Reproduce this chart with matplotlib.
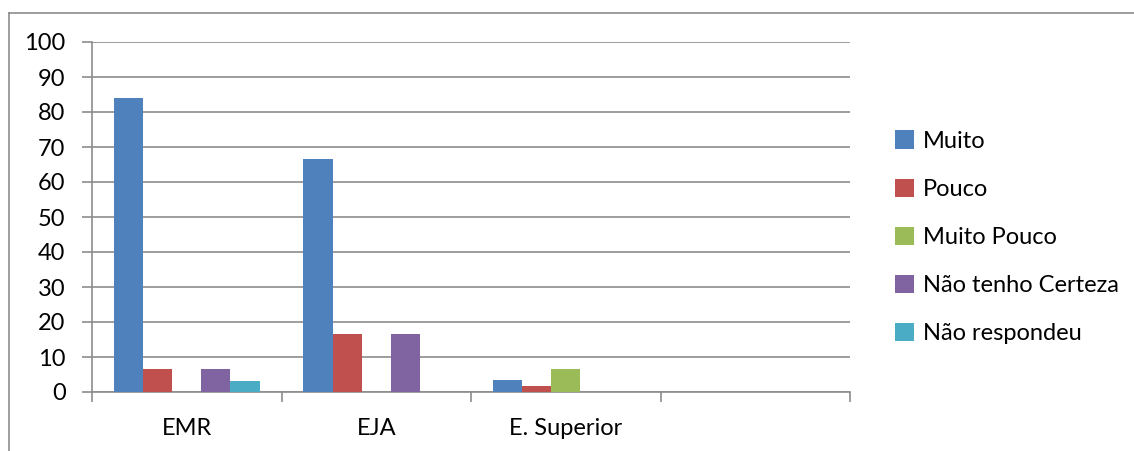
import numpy as np
import matplotlib
matplotlib.use("Agg")
import matplotlib.pyplot as plt
from matplotlib.lines import Line2D

categories = ['EMR', 'EJA', 'E. Superior', '']
series = ['Muito', 'Pouco', 'Muito Pouco', 'Não tenho Certeza', 'Não respondeu']
muito = [83.9, 66.7, 3.3, 0]
pouco = [6.45, 16.7, 1.7, 0]
muito_pouco = [0, 0, 6.7, 0]
nao_tenho = [6.45, 16.7, 0, 0]
nao_respondeu = [3.2, 0, 0, 0]
values = [muito, pouco, muito_pouco, nao_tenho, nao_respondeu]
colors = ['#4f81bd', '#c0504d', '#9bbb59', '#8064a2', '#4bacc6']

plt.rcParams['font.family'] = ['Lato', 'DejaVu Sans']

fig = plt.figure(figsize=(11.34, 4.51), dpi=100)
ax = fig.add_axes([92 / 1134, 1 - 392 / 451, (850 - 92) / 1134, 350 / 451])

x = np.arange(len(categories))
w = 1 / 6.5
for i, (name, vals, c) in enumerate(zip(series, values, colors)):
    ax.bar(x + (i - 2) * w, vals, width=w, color=c, label=name, zorder=3)

ax.set_xlim(-0.5, len(categories) - 0.5)
ax.set_ylim(0, 100)
ax.set_yticks(range(0, 101, 10))
ax.yaxis.grid(True, color='#8c8c8c', linewidth=1.2)
ax.set_axisbelow(True)

ax.set_xticks(x)
ax.set_xticklabels(categories)
ax.set_xticks(np.arange(-0.5, len(categories)), minor=True)
ax.tick_params(axis='x', which='major', length=0, pad=19, labelsize=17)
ax.tick_params(axis='x', which='minor', length=7, width=1.2, color='#8c8c8c')
ax.tick_params(axis='y', length=7, width=1.2, color='#8c8c8c', labelsize=17, pad=12)

for s in ['top', 'right']:
    ax.spines[s].set_visible(False)
for s in ['left', 'bottom']:
    ax.spines[s].set_color('#8c8c8c')
    ax.spines[s].set_linewidth(1.2)

leg = fig.legend(loc='upper left', bbox_to_anchor=(886 / 1134, 1 - 121 / 451),
                 frameon=False, fontsize=17, handlelength=0.8, handleheight=0.8,
                 handletextpad=0.35, labelspacing=1.14, borderaxespad=0)

# outer chart border
fig.add_artist(Line2D([9 / 1134, 1], [1 - 13 / 451, 1 - 13 / 451], color='#8c8c8c', linewidth=1.2))
fig.add_artist(Line2D([9 / 1134, 9 / 1134], [0, 1 - 13 / 451], color='#8c8c8c', linewidth=1.2))

fig.savefig('out.png', dpi=100)
